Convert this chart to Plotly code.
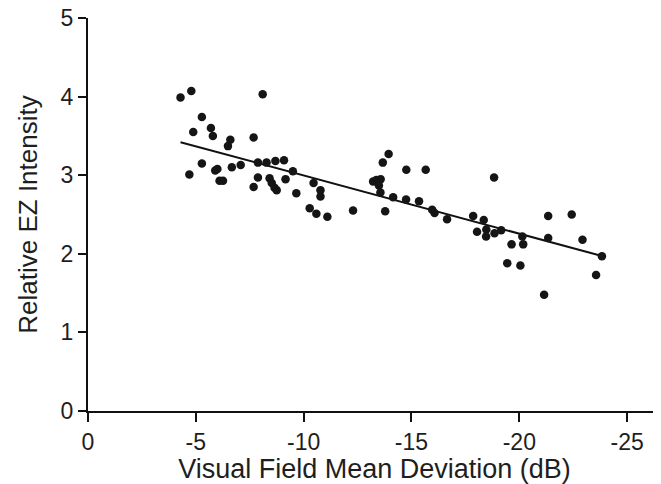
import numpy as np
import plotly.graph_objects as go

# Visual field mean deviation (dB)
md = [-4.29, -4.79, -8.10, -5.28, -4.88, -5.70, -5.79, -6.60, -6.49, -7.68,
      -5.28, -4.70, -5.90, -6.00, -6.10, -6.26, -6.67, -7.08, -7.88, -8.28,
      -8.69, -9.09, -7.88, -7.68, -9.50, -9.16, -8.42, -8.52, -8.65, -8.75,
      -9.66, -10.46, -10.78, -10.78, -10.28, -10.59, -11.10, -12.29, -13.78, -13.94,
      -13.67, -14.76, -15.66, -13.22, -13.37, -13.57, -13.49, -13.56, -14.15, -14.75,
      -15.35, -15.96, -16.07, -16.65, -17.86, -18.35, -18.04, -18.47, -18.46, -18.83,
      -18.85, -19.16, -21.34, -22.43, -20.14, -19.64, -20.18, -21.34, -22.93, -23.83,
      -19.44, -20.05, -23.56, -21.15]
# Relative EZ intensity
ez = [3.99, 4.07, 4.03, 3.74, 3.55, 3.60, 3.50, 3.45, 3.37, 3.48,
      3.15, 3.01, 3.06, 3.08, 2.93, 2.93, 3.10, 3.13, 3.16, 3.16,
      3.18, 3.19, 2.97, 2.85, 3.05, 2.95, 2.96, 2.90, 2.84, 2.81,
      2.77, 2.90, 2.81, 2.73, 2.58, 2.51, 2.47, 2.55, 2.54, 3.27,
      3.16, 3.07, 3.07, 2.92, 2.94, 2.95, 2.87, 2.78, 2.72, 2.69,
      2.67, 2.56, 2.52, 2.44, 2.48, 2.43, 2.28, 2.31, 2.22, 2.97,
      2.26, 2.30, 2.48, 2.50, 2.22, 2.12, 2.12, 2.20, 2.18, 1.97,
      1.88, 1.85, 1.73, 1.48]

# Regression line: ez = fit_intercept + fit_slope * md
fit_intercept = 3.738
fit_slope = 0.0741

x_ticks = [0, -5, -10, -15, -20, -25]
y_ticks = [0, 1, 2, 3, 4, 5]

line_x = np.array([min(md), max(md)])
line_y = fit_intercept + fit_slope * line_x

FONT = "Liberation Sans, Arial, sans-serif"
TXT = "#1e1e1e"

fig = go.Figure()
fig.add_trace(go.Scatter(x=line_x, y=line_y, mode="lines",
                         line=dict(color="#111111", width=2), showlegend=False))
fig.add_trace(go.Scatter(x=md, y=ez, mode="markers",
                         marker=dict(color="#151515", size=8.5, line=dict(width=0)),
                         showlegend=False, cliponaxis=False))

# the page body has an 8px default margin, so the figure is sized to fit the window
fig.update_layout(
    width=653, height=476,
    margin=dict(l=80, r=0, t=10, b=73),
    plot_bgcolor="white", paper_bgcolor="white",
    font=dict(family=FONT, color=TXT),
)
fig.update_xaxes(
    range=[0, -26.57], tickvals=x_ticks, ticktext=[str(v) for v in x_ticks],
    automargin=False, ticklabeloverflow="allow",
    showgrid=False, zeroline=False, showline=True, linecolor="#111111", linewidth=2,
    ticks="outside", ticklen=9, tickwidth=2, tickcolor="#111111",
    tickfont=dict(size=23, family=FONT, color=TXT),
    title=dict(text="Visual Field Mean Deviation (dB)", font=dict(size=27, family=FONT, color=TXT), standoff=6),
)
fig.update_yaxes(
    range=[0, 5], tickvals=y_ticks,
    automargin=False, ticklabeloverflow="allow",
    showgrid=False, zeroline=False, showline=True, linecolor="#111111", linewidth=2,
    ticks="outside", ticklen=8, tickwidth=2, tickcolor="#111111",
    tickfont=dict(size=23, family=FONT, color=TXT),
    title=dict(text="Relative EZ Intensity", font=dict(size=26, family=FONT, color=TXT), standoff=16),
)

fig.write_html("out.html")
